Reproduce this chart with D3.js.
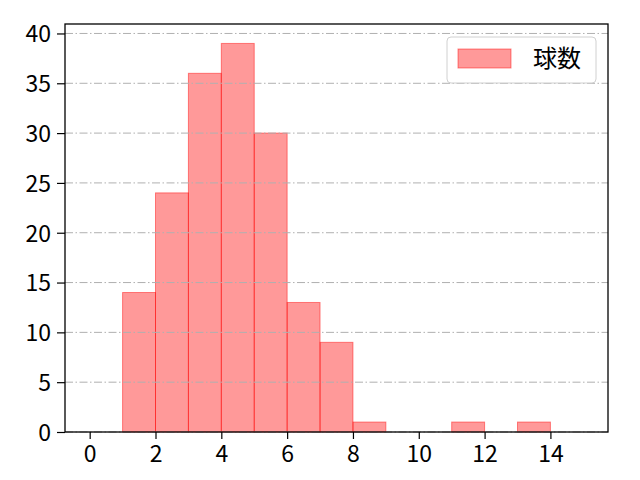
<!DOCTYPE html>
<html><head><meta charset="utf-8">
<script src="https://cdn.jsdelivr.net/npm/d3@7"></script>
<style>body{margin:0;background:#fff}</style>
</head><body>
<script>
const binStarts = [1,2,3,4,5,6,7,8,9,10,11,12,13];
const counts = [14,24,36,39,30,13,9,1,0,0,1,0,1];
const xTicks = [0,2,4,6,8,10,12,14];
const yTicks = [0,5,10,15,20,25,30,35,40];
const legendLabel = "球数";

const W=640,H=480;
const m={l:65,r:32,t:24,b:48};
const svg=d3.select("body").append("svg").attr("width",W).attr("height",H)
  .style("font-family","'Noto Sans CJK JP','Noto Sans',sans-serif");
const x=d3.scaleLinear().domain([-0.75,15.75]).range([m.l,W-m.r]);
const y=d3.scaleLinear().domain([0,40.95]).range([H-m.b,m.t]);

// bars
svg.append("g").selectAll("rect").data(binStarts.map((s,i)=>({s,c:counts[i]})).filter(d=>d.c>0)).join("rect")
  .attr("x",d=>x(d.s)).attr("width",d=>x(d.s+1)-x(d.s))
  .attr("y",d=>y(d.c)).attr("height",d=>y(0)-y(d.c))
  .attr("fill","rgba(255,0,0,0.4)").attr("stroke","rgba(255,0,0,0.45)").attr("stroke-width",1);

// grid (drawn above bars)
svg.append("g").selectAll("line").data(yTicks).join("line")
  .attr("x1",m.l).attr("x2",W-m.r).attr("y1",d=>y(d)).attr("y2",d=>y(d))
  .attr("stroke","#b0b0b0").attr("stroke-width",1).attr("stroke-dasharray","8,2.5,1.5,2.5");

const fs=23;
const gx=svg.append("g").attr("transform",`translate(0,${H-m.b})`)
  .call(d3.axisBottom(x).tickValues(xTicks).tickSize(7).tickPadding(7));
const gy=svg.append("g").attr("transform",`translate(${m.l},0)`)
  .call(d3.axisLeft(y).tickValues(yTicks).tickSize(8).tickPadding(6));
[gx,gy].forEach(g=>{g.select(".domain").remove();
  g.selectAll("line").attr("stroke","#000").attr("stroke-width",1.2);
  g.selectAll("text").attr("font-size",fs).attr("fill","#000").attr("font-family","'Noto Sans CJK JP',sans-serif");});
gy.selectAll("text").attr("dy","0.36em");

svg.append("rect").attr("x",m.l).attr("y",m.t).attr("width",W-m.r-m.l).attr("height",H-m.b-m.t)
  .attr("fill","none").attr("stroke","#000").attr("stroke-width",1.3);

// legend
const lg=svg.append("g");
lg.append("rect").attr("x",447).attr("y",37).attr("width",149).attr("height",46).attr("rx",4)
  .attr("fill","rgba(255,255,255,0.8)").attr("stroke","#d0d0d0");
lg.append("rect").attr("x",458).attr("y",49).attr("width",53).attr("height",19)
  .attr("fill","rgba(255,0,0,0.4)").attr("stroke","rgba(255,0,0,0.45)");
lg.append("text").attr("x",533).attr("y",67).attr("font-size",24).attr("fill","#000").text(legendLabel);
</script>
</body></html>
